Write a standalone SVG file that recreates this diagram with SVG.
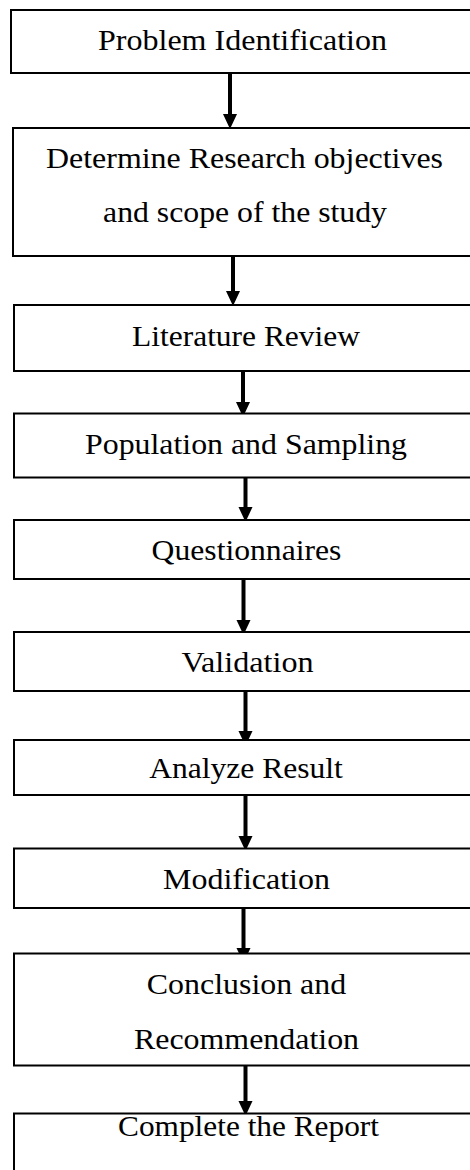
<svg xmlns="http://www.w3.org/2000/svg" width="470" height="1170" viewBox="0 0 470 1170">
<style>
.box{fill:#fff;stroke:#000;stroke-width:2}
.lbl{font-family:"Liberation Serif","Times New Roman",serif;font-size:28.5px;fill:#000;text-anchor:middle}
.arr{stroke:#000;stroke-width:4;fill:none}
</style>
<defs>
<marker id="ah" markerUnits="userSpaceOnUse" markerWidth="16" markerHeight="16" refX="4" refY="7" orient="auto">
<path d="M0,0 L15,7 L0,14 Z" fill="#000"/>
</marker>
</defs>
<rect width="470" height="1170" fill="#fff"/>
<g id="connectors">
<line class="arr" x1="230" y1="73" x2="230" y2="118" marker-end="url(#ah)"/>
<line class="arr" x1="233" y1="252" x2="233" y2="295" marker-end="url(#ah)"/>
<line class="arr" x1="243" y1="362" x2="243" y2="406" marker-end="url(#ah)"/>
<line class="arr" x1="245.5" y1="467" x2="245.5" y2="511" marker-end="url(#ah)"/>
<line class="arr" x1="243.5" y1="579" x2="243.5" y2="624" marker-end="url(#ah)"/>
<line class="arr" x1="245.5" y1="691" x2="245.5" y2="735" marker-end="url(#ah)"/>
<line class="arr" x1="245.5" y1="795" x2="245.5" y2="840" marker-end="url(#ah)"/>
<line class="arr" x1="243.5" y1="908" x2="243.5" y2="952" marker-end="url(#ah)"/>
<line class="arr" x1="245.5" y1="1060" x2="245.5" y2="1105" marker-end="url(#ah)"/>
</g>
<g id="n1"><rect class="box" x="11" y="10" width="480" height="63"/><text class="lbl" transform="translate(242.5,50) scale(1.12,1)" textLength="258" lengthAdjust="spacingAndGlyphs">Problem Identification</text></g>
<g id="n2"><rect class="box" x="13" y="128" width="480" height="128"/><text class="lbl" transform="translate(244.5,168) scale(1.12,1)" textLength="354.5" lengthAdjust="spacingAndGlyphs">Determine Research objectives</text><text class="lbl" transform="translate(245,221.5) scale(1.12,1)" textLength="253.5" lengthAdjust="spacingAndGlyphs">and scope of the study</text></g>
<g id="n3"><rect class="box" x="14" y="305" width="480" height="66"/><text class="lbl" transform="translate(246,345.5) scale(1.12,1)" textLength="203.5" lengthAdjust="spacingAndGlyphs">Literature Review</text></g>
<g id="n4"><rect class="box" x="14" y="413.5" width="480" height="64"/><text class="lbl" transform="translate(246,454) scale(1.12,1)" textLength="287.5" lengthAdjust="spacingAndGlyphs">Population and Sampling</text></g>
<g id="n5"><rect class="box" x="14" y="520" width="480" height="59"/><text class="lbl" transform="translate(246.5,560) scale(1.12,1)" textLength="169.5" lengthAdjust="spacingAndGlyphs">Questionnaires</text></g>
<g id="n6"><rect class="box" x="14" y="632" width="480" height="59"/><text class="lbl" transform="translate(247.5,671.5) scale(1.12,1)" textLength="118" lengthAdjust="spacingAndGlyphs">Validation</text></g>
<g id="n7"><rect class="box" x="14" y="740" width="480" height="55"/><text class="lbl" transform="translate(246,778) scale(1.12,1)" textLength="173" lengthAdjust="spacingAndGlyphs">Analyze Result</text></g>
<g id="n8"><rect class="box" x="14" y="848.5" width="480" height="59.5"/><text class="lbl" transform="translate(246.5,888.5) scale(1.12,1)" textLength="149" lengthAdjust="spacingAndGlyphs">Modification</text></g>
<g id="n9"><rect class="box" x="14" y="953.5" width="480" height="112"/><text class="lbl" transform="translate(246.5,993.5) scale(1.12,1)" textLength="178" lengthAdjust="spacingAndGlyphs">Conclusion and</text><text class="lbl" transform="translate(246.5,1048.5) scale(1.12,1)" textLength="201" lengthAdjust="spacingAndGlyphs">Recommendation</text></g>
<g id="n10"><rect class="box" x="14" y="1113.5" width="480" height="80"/><text class="lbl" transform="translate(248.5,1135.5) scale(1.12,1)" textLength="233" lengthAdjust="spacingAndGlyphs">Complete the Report</text></g>
</svg>
